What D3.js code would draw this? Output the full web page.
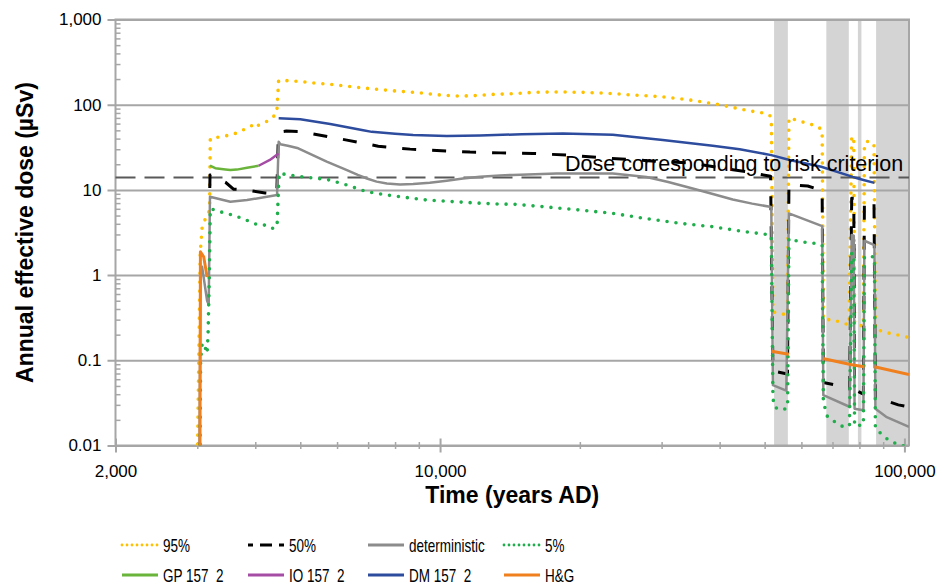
<!DOCTYPE html>
<html>
<head>
<meta charset="utf-8">
<script src="https://cdn.jsdelivr.net/npm/d3@7"></script>
<style>
  body { margin: 0; background: #fff; }
  svg { display: block; font-family: "Liberation Sans", Arial, sans-serif; }
</style>
</head>
<body>
<svg id="chart" width="944" height="587"></svg>
<script>
// ---------- data: [year AD, annual effective dose in µSv]; null marks a gap ----------
const p95 = [
  [3000, 0.005], [3045, 1.9], [3060, 2.6], [3075, 3.8], [3100, 4.2], [3150, 5.0], [3175, 5.3],
  [3190, 7], [3200, 40], [3280, 41], [3450, 43], [3590, 45], [3750, 50], [3900, 55], [3980, 60],
  [4020, 56], [4200, 62], [4350, 70], [4450, 80], [4490, 190], [4530, 194], [5000, 187],
  [5330, 180], [5700, 175], [6300, 165], [7000, 155], [8000, 145], [9000, 138], [10000, 130],
  [11000, 126], [12000, 128], [13000, 132], [14500, 135], [16000, 140], [18000, 141],
  [20000, 140], [23000, 136], [26000, 130], [30000, 124], [34000, 115], [40000, 100],
  [45700, 86], [49500, 80], [51300, 75], [51700, 62], [52100, 0.37], [56000, 0.34],
  [56400, 70], [58000, 67], [62000, 60], [65000, 56], [66500, 50], [66900, 0.3], [69600, 0.3],
  [73000, 0.28], [76000, 0.26], [77000, 42], [77800, 42], [78100, 0.27], [81600, 0.25],
  [82000, 35], [84000, 38], [86000, 33], [86600, 0.23], [88000, 0.226], [92000, 0.21],
  [96000, 0.2], [100000, 0.19], [102300, 0.185]
];
const p50 = [
  [3192, 10.5], [3196, 15], [3450, 12.3], [3590, 10.2], [3750, 10.1], [3900, 9.8], [4200, 9.2],
  [4450, 9.0], [4480, 35], [4530, 48], [4665, 49], [5000, 48.5], [6300, 38.4], [7360, 32.6],
  [8620, 30.1], [11600, 27.8], [12500, 27.5], [13500, 27.2], [15850, 26.8], [17000, 26.3],
  [19000, 25.5], [23000, 23.6], [28000, 22], [35000, 20.6], [40600, 18], [47100, 16],
  [48800, 15.2], [51500, 14.5], [52100, 0.075], [54000, 0.072], [56000, 0.069],
  [56400, 11.5], [61900, 11.1], [65000, 10.2], [66500, 9.5], [66900, 0.055], [71300, 0.051],
  [75000, 0.047], [76200, 0.046], [77000, 8], [77800, 8], [78100, 0.045], [81600, 0.04],
  [82000, 7.3], [86000, 7.2], [86600, 0.036], [92800, 0.0325], [97000, 0.030],
  [100000, 0.029], [102300, 0.028]
];
const deterministic = [
  [3030, 0.005], [3050, 1.0], [3073, 1.25], [3150, 0.5], [3175, 0.45], [3195, 8.3],
  [3535, 7.25], [3840, 7.6], [4456, 8.7], [4492, 36.7], [4529, 34.4], [4700, 33],
  [4950, 30.8], [5333, 25.5], [5700, 21.5], [6301, 17.1], [6650, 15.0], [6958, 13.6],
  [7300, 12.5], [7681, 11.9], [8200, 11.6], [8749, 11.7], [9500, 12.1], [10337, 12.8],
  [11200, 13.6], [12190, 14.3], [13460, 14.8], [14360, 15.0], [17820, 15.6], [23550, 15.6],
  [27830, 14.2], [31000, 12.4], [34990, 10.4], [38500, 9.0], [42680, 7.7], [47000, 6.9],
  [51680, 6.3], [52100, 0.051], [55670, 0.044], [56390, 5.3],
  [66530, 3.76], [66900, 0.039], [76160, 0.0285], [77000, 2.95], [77800, 2.9],
  [78100, 0.027], [81600, 0.026], [82000, 2.53], [86190, 2.25], [86600, 0.027],
  [91340, 0.0217], [102300, 0.0165]
];
const p05 = [
  [3040, 0.005], [3050, 0.1], [3075, 0.16], [3110, 0.15], [3150, 0.12], [3165, 0.2],
  [3185, 1], [3200, 6.0], [3282, 5.8], [3449, 5.3], [3588, 5.06], [3746, 4.63], [3904, 4.22],
  [4067, 3.86], [4205, 3.86], [4346, 3.53], [4456, 3.7], [4500, 15.6], [5168, 14.0],
  [5706, 13.3], [6301, 11.4], [6958, 9.5], [7924, 8.5], [9363, 7.6], [11776, 7.05],
  [13460, 6.8], [14360, 6.8], [16960, 6.3], [20000, 5.8], [23550, 5.3], [27830, 4.6],
  [32820, 4.05], [38650, 3.7], [44190, 3.3], [50420, 3.0], [51680, 2.9], [52100, 0.036],
  [52540, 0.028], [54740, 0.026], [56030, 0.028], [56400, 2.7], [57520, 2.57], [59950, 2.46],
  [63010, 2.39], [65650, 2.3], [66500, 2.25], [66900, 0.0325], [68300, 0.0217],
  [71310, 0.0185], [73930, 0.0165], [76160, 0.017], [77000, 1.8], [77800, 1.8],
  [78100, 0.017], [81600, 0.0174], [82000, 1.64], [86190, 1.64], [86600, 0.016],
  [89100, 0.0137], [92070, 0.0118], [95640, 0.0106], [100000, 0.0098], [102300, 0.0095]
];
const gp157 = [
  [3195, 19.3], [3280, 18.0], [3450, 17.4], [3535, 17.1], [3650, 17.3], [3840, 18.2], [4067, 19.2]
];
const io157 = [
  [4067, 19.2], [4300, 22.5], [4490, 26.8]
];
const dm157 = [
  [4492, 69.4], [5000, 67.5], [5800, 59.2], [6830, 50.2], [7130, 48], [8000, 45.5],
  [8750, 44], [10340, 43], [12190, 43.5], [15000, 45], [18390, 46], [23550, 44.5],
  [30170, 38.4], [38650, 33], [44190, 30], [51680, 25.6], [56590, 22.4], [66210, 18.7],
  [77410, 14.2], [82000, 13.0], [86190, 12.1]
];
const hg = [
  [3040, 0.005], [3047, 1.88], [3097, 1.64], [3150, 0.95], null,
  [51680, 0.128], [56390, 0.118], null,
  [66730, 0.105], [77410, 0.088], [82020, 0.084], null,
  [86190, 0.084], [102300, 0.068]
];

// periods shaded in grey (years AD)
const shadedPeriods = [[52400, 56100], [67900, 75900], [79400, 80800], [86900, 102300]];

// risk criterion
const criterionDose = 14;
const criterionLabel = "Dose corresponding to risk criterion";

// axes
const yMajor = [0.01, 0.1, 1, 10, 100, 1000];
const xMajor = [2000, 10000, 100000];
const xMinor = [3000, 4000, 5000, 6000, 7000, 8000, 9000,
                20000, 30000, 40000, 50000, 60000, 70000, 80000, 90000];
const yMinor = [2, 3, 4, 5, 6, 7, 8, 9].flatMap(m => [0.01, 0.1, 1, 10, 100].map(d => m * d));
const xTitle = "Time (years AD)";
const yTitle = "Annual effective dose (µSv)";

// legend entries
const legendRow1 = ["95%", "50%", "deterministic", "5%"];
const legendRow2 = ["GP 157\u00a0\u00a02", "IO 157\u00a0\u00a02", "DM 157\u00a0\u00a02", "H&G"];

// ---------- drawing ----------
const svg = d3.select("#chart");
const plot = { left: 115.5, right: 909, top: 19.5, bottom: 445.5 };
const gridColor = "#a6a6a6";

const x = d3.scaleLog().domain([2000, 102300]).range([plot.left, plot.right]);
const y = d3.scaleLog().domain([0.01, 1000]).range([plot.bottom, plot.top]);

svg.append("defs").append("clipPath").attr("id", "plotClip")
  .append("rect")
  .attr("x", plot.left).attr("y", plot.top)
  .attr("width", plot.right - plot.left).attr("height", plot.bottom - plot.top);

// shaded periods
svg.append("g").selectAll("rect").data(shadedPeriods).join("rect")
  .attr("x", d => x(d[0]))
  .attr("y", plot.top)
  .attr("width", d => Math.min(x(d[1]), plot.right) - x(d[0]))
  .attr("height", plot.bottom - plot.top)
  .attr("fill", "#d4d4d4");

function styleAxis(g, color, width) {
  g.select(".domain").remove();
  g.selectAll(".tick line").attr("stroke", color).attr("stroke-width", width);
}

// horizontal gridlines (extend left past the axis as major ticks)
svg.append("g")
  .attr("transform", `translate(${plot.right},0)`)
  .call(d3.axisLeft(y).tickValues(yMajor).tickSize(plot.right - plot.left + 8).tickFormat(""))
  .call(g => styleAxis(g, gridColor, 2));

// y labels
svg.append("g")
  .attr("transform", `translate(${plot.left},0)`)
  .call(d3.axisLeft(y).tickValues(yMajor).tickSize(0).tickPadding(14).tickFormat(d3.format(",")))
  .call(g => g.select(".domain").remove())
  .call(g => g.selectAll("text").attr("font-size", 17).attr("fill", "#000")
    .attr("font-family", "Liberation Sans, Arial, sans-serif"));

// y minor ticks (inside)
svg.append("g")
  .attr("transform", `translate(${plot.left},0)`)
  .call(d3.axisRight(y).tickValues(yMinor).tickSize(5).tickFormat(""))
  .call(g => styleAxis(g, gridColor, 1.5));

// x major and minor ticks (crossing the axis line)
[[xMajor, 7, 2], [xMinor, 3.5, 1.5]].forEach(([vals, size, w]) => {
  svg.append("g").attr("transform", `translate(0,${plot.bottom})`)
    .call(d3.axisBottom(x).tickValues(vals).tickSize(size).tickFormat(""))
    .call(g => styleAxis(g, gridColor, w));
  svg.append("g").attr("transform", `translate(0,${plot.bottom})`)
    .call(d3.axisTop(x).tickValues(vals).tickSize(size).tickFormat(""))
    .call(g => styleAxis(g, gridColor, w));
});

// x labels
svg.append("g")
  .attr("transform", `translate(0,${plot.bottom})`)
  .call(d3.axisBottom(x).tickValues(xMajor).tickSize(0).tickPadding(19).tickFormat(d3.format(",")))
  .call(g => g.select(".domain").remove())
  .call(g => g.selectAll("text").attr("font-size", 17).attr("fill", "#000")
    .attr("font-family", "Liberation Sans, Arial, sans-serif"));

// plot frame
svg.append("rect")
  .attr("x", plot.left).attr("y", plot.top)
  .attr("width", plot.right - plot.left).attr("height", plot.bottom - plot.top)
  .attr("fill", "none").attr("stroke", gridColor).attr("stroke-width", 2);

// risk criterion line
svg.append("line")
  .attr("x1", plot.left).attr("x2", plot.right)
  .attr("y1", y(criterionDose)).attr("y2", y(criterionDose))
  .attr("stroke", "#595959").attr("stroke-width", 2).attr("stroke-dasharray", "20,9");

// series
const series = [
  { data: p95, color: "#ffc000", width: 3.6, dash: "0,9", cap: "round",
    key: { width: 2.8, dash: "0,5", offset: 0 } },
  { data: p50, color: "#000000", width: 3, dash: "14,16", cap: "butt",
    key: { width: 3, dash: "12,7", offset: 7 } },
  { data: deterministic, color: "#8c8c8c", width: 2.5, dash: null, cap: "butt",
    key: { width: 3, dash: null, offset: 0 } },
  { data: p05, color: "#1fae4b", width: 3.6, dash: "0,9", cap: "round",
    key: { width: 2.8, dash: "0,5", offset: 0 } },
  { data: gp157, color: "#6ab43c", width: 2.5, dash: null, cap: "butt",
    key: { width: 3, dash: null, offset: 0 } },
  { data: io157, color: "#a54da5", width: 2.5, dash: null, cap: "butt",
    key: { width: 3, dash: null, offset: 0 } },
  { data: dm157, color: "#2e4c9e", width: 2.5, dash: null, cap: "butt",
    key: { width: 3, dash: null, offset: 0 } },
  { data: hg, color: "#f07f1e", width: 3, dash: null, cap: "butt",
    key: { width: 3, dash: null, offset: 0 } }
];
const line = d3.line()
  .defined(d => d !== null)
  .x(d => x(d[0]))
  .y(d => y(d[1]));

const lines = svg.append("g").attr("clip-path", "url(#plotClip)");
series.forEach(s => {
  lines.append("path")
    .attr("d", line(s.data))
    .attr("fill", "none")
    .attr("stroke", s.color)
    .attr("stroke-width", s.width)
    .attr("stroke-linecap", s.cap)
    .attr("stroke-linejoin", "round")
    .attr("stroke-dasharray", s.dash);
});

// criterion label
svg.append("text")
  .attr("x", 565).attr("y", y(criterionDose) - 6)
  .attr("font-size", 21.5).attr("fill", "#000")
  .text(criterionLabel);

// axis titles
svg.append("text")
  .attr("x", (plot.left + plot.right) / 2).attr("y", 503)
  .attr("text-anchor", "middle").attr("font-size", 23).attr("font-weight", "bold")
  .text(xTitle);
svg.append("text")
  .attr("transform", `translate(33,${(plot.top + plot.bottom) / 2}) rotate(-90)`)
  .attr("text-anchor", "middle").attr("font-size", 23).attr("font-weight", "bold")
  .text(yTitle);

// legend
const legendCols = [122, 248, 368, 504];
const legendRows = [545, 575];
const legendItems = [
  ...legendRow1.map((t, i) => ({ label: t, s: series[i], col: i, row: 0 })),
  ...legendRow2.map((t, i) => ({ label: t, s: series[4 + i], col: i, row: 1 }))
];
const lg = svg.append("g");
legendItems.forEach(it => {
  const x0 = legendCols[it.col], yy = legendRows[it.row];
  lg.append("line")
    .attr("x1", x0).attr("x2", x0 + 36).attr("y1", yy).attr("y2", yy)
    .attr("stroke", it.s.color).attr("stroke-width", it.s.key.width)
    .attr("stroke-linecap", it.s.cap).attr("stroke-dasharray", it.s.key.dash)
    .attr("stroke-dashoffset", it.s.key.offset);
  const t = lg.append("text")
    .attr("x", x0 + 41).attr("y", yy).attr("dy", "0.36em")
    .attr("font-size", 19).attr("fill", "#000")
    .text(it.label);
  // narrow legend lettering
  const w = t.node().getComputedTextLength();
  t.attr("textLength", w * 0.71).attr("lengthAdjust", "spacingAndGlyphs");
});
</script>
</body>
</html>
